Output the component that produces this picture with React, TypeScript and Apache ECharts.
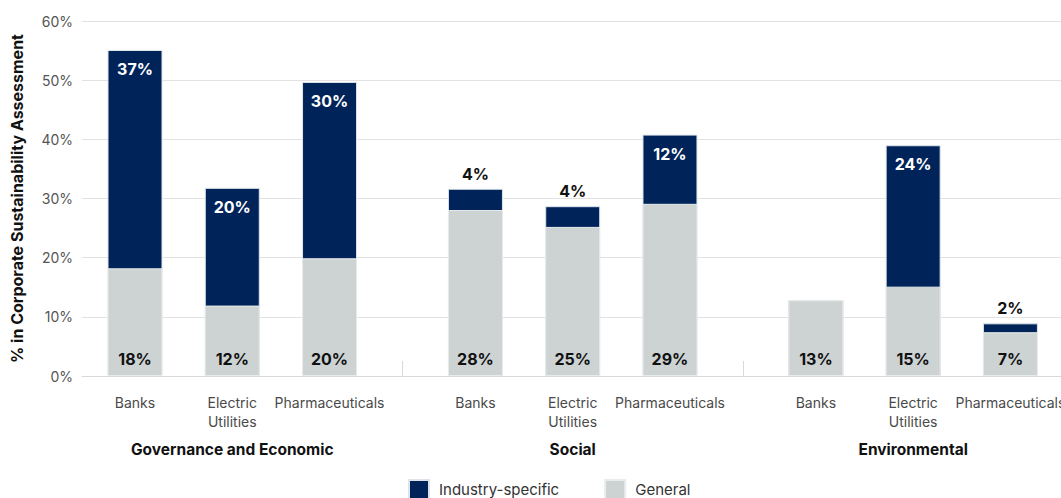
import React, { useEffect, useRef } from "react";
import * as echarts from "echarts";

const groups = ["Governance and Economic", "Social", "Environmental"];
const industries = ["Banks", "Electric\nUtilities", "Pharmaceuticals"];
const industrySpecific = [36.9, 19.9, 29.8, 3.6, 3.5, 11.7, 0, 23.9, 1.5];
const general = [18.2, 11.9, 19.9, 28.05, 25.2, 29.1, 12.8, 15.1, 7.4];
const yTicks = [0, 10, 20, 30, 40, 50, 60];

const NAVY = "#00245A";
const GRAY = "#CDD3D3";
const FONT = "Inter, 'Noto Sans', sans-serif";

// layout helpers: position of each bar on the x value axis
const GROUP_STEP = 3.5;
const posOf = (g: number, i: number) => 1 + g * GROUP_STEP + i;
const positions: number[] = [];
const names: string[] = [];
groups.forEach((_, g) =>
  industries.forEach((ind, i) => {
    positions.push(posOf(g, i));
    names.push(ind);
  })
);
const groupCenters = groups.map((_, g) => posOf(g, 1));
const separators = groups.slice(1).map((_, g) => posOf(g, 2) + (GROUP_STEP - 2) / 2);

const findIdx = (arr: number[], v: number) => arr.findIndex((p) => Math.abs(p - v) < 1e-6);

export default function App() {
  const ref = useRef<HTMLDivElement>(null);
  useEffect(() => {
    document.body.style.margin = "0";
    document.documentElement.style.overflow = "hidden";
    document.body.style.overflow = "hidden";
    if (!ref.current) return;
    const chart = echarts.init(ref.current, undefined, { renderer: "svg", width: 1061, height: 498 });
    const xCommon = {
      type: "value" as const,
      min: 0.455,
      max: 10.52,
      splitLine: { show: false },
    };
    chart.setOption({
      animation: false,
      textStyle: { fontFamily: FONT },
      grid: {
        left: 82,
        width: 979,
        top: 21,
        height: 355,
        containLabel: false,
        outerBoundsMode: "none",
      },
      legend: {
        left: 408,
        top: 479,
        padding: 0,
        itemWidth: 20,
        itemHeight: 19,
        itemGap: 45,
        icon: "rect",
        textStyle: { fontSize: 15, color: "#333", fontFamily: FONT, padding: [0, 0, 0, 5] },
        data: ["Industry-specific", "General"],
      },
      xAxis: [
        {
          ...xCommon,
          axisLine: { show: true, lineStyle: { color: "#d9d9d9", width: 1 } },
          axisTick: {
            show: true,
            inside: true,
            length: 15,
            customValues: separators,
            lineStyle: { color: "#d9d9d9" },
          },
          axisLabel: {
            customValues: positions,
            formatter: (v: number) => {
              const k = findIdx(positions, v);
              return k >= 0 ? names[k] : "";
            },
            margin: 17,
            fontSize: 14,
            lineHeight: 19,
            color: "#4a4a4a",
            fontFamily: FONT,
          },
        },
        {
          ...xCommon,
          position: "bottom",
          axisLine: { show: false },
          axisTick: { show: false },
          axisLabel: {
            customValues: groupCenters,
            formatter: (v: number) => {
              const k = findIdx(groupCenters, v);
              return k >= 0 ? groups[k] : "";
            },
            margin: 65,
            fontSize: 15.5,
            fontWeight: "bold",
            color: "#111",
            fontFamily: FONT,
          },
        },
      ],
      yAxis: {
        type: "value",
        min: yTicks[0],
        max: yTicks[yTicks.length - 1],
        interval: yTicks[1] - yTicks[0],
        name: "% in Corporate Sustainability Assessment",
        nameLocation: "middle",
        nameGap: 57,
        nameTextStyle: { fontSize: 16, fontWeight: "bold", color: "#111", fontFamily: FONT },
        axisLine: { show: false },
        axisTick: { show: false },
        axisLabel: { formatter: "{value}%", fontSize: 14, color: "#555", margin: 9, fontFamily: FONT },
        splitLine: { lineStyle: { color: "#e2e2e2", width: 1 } },
      },
      series: [
        {
          // full column height (general + industry-specific); the general bar is drawn over its lower part
          name: "Industry-specific",
          type: "bar",
          barWidth: 55,
          barGap: "-100%",
          itemStyle: { color: NAVY, borderColor: "#dfe4ea", borderWidth: 1 },
          data: industrySpecific.map((v, k) => {
            const small = v < 5;
            return {
              value: [positions[k], general[k] + v],
              itemStyle: v === 0 ? { borderWidth: 0, color: GRAY } : undefined,
              label: {
                show: v > 0,
                position: small ? "top" : "insideTop",
                distance: small ? 7 : 11,
                formatter: `${Math.round(v)}%`,
                fontSize: 16,
                fontWeight: "bold",
                color: small ? "#111" : "#fff",
                fontFamily: FONT,
              },
            };
          }),
        },
        {
          name: "General",
          type: "bar",
          barWidth: 55,
          barGap: "-100%",
          itemStyle: { color: GRAY, borderColor: "#e9ecec", borderWidth: 1 },
          label: {
            show: true,
            position: "insideBottom",
            distance: 9,
            formatter: (p: any) => `${Math.round(p.value[1])}%`,
            fontSize: 16,
            fontWeight: "bold",
            color: "#111",
            fontFamily: FONT,
          },
          data: general.map((v, k) => [positions[k], v]),
        },
      ],
    });
    return () => chart.dispose();
  }, []);
  return <div ref={ref} style={{ width: 1061, height: 498, overflow: "hidden" }} />;
}
